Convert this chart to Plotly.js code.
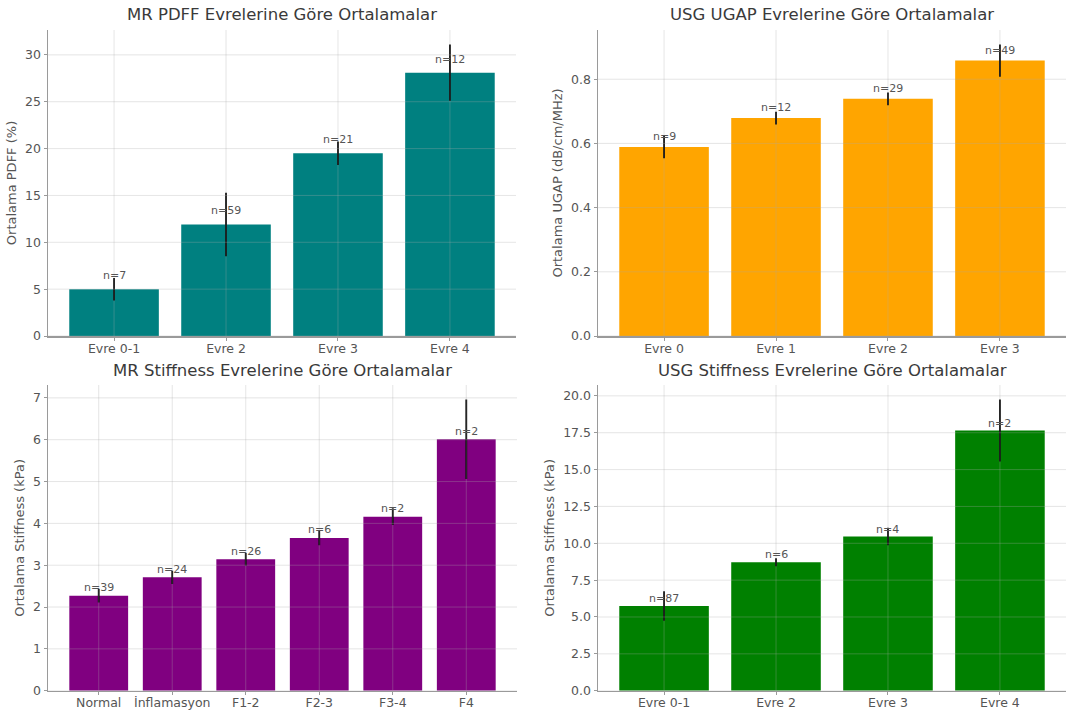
<!DOCTYPE html>
<html>
<head>
<meta charset="utf-8">
<script src="https://cdn.plot.ly/plotly-3.0.1.min.js"></script>
<style>html,body{margin:0;padding:0;background:#fff;}</style>
</head>
<body>
<div id="chart" style="width:1091px;height:714px;"></div>
<script>
// MR PDFF by stage
const pdffStages = ['Evre 0-1', 'Evre 2', 'Evre 3', 'Evre 4'];
const pdffMean = [5.0, 11.9, 19.5, 28.1];
const pdffErr = [1.2, 3.4, 1.25, 3.0];
const pdffN = [7, 59, 21, 12];
const pdffTicks = [0, 5, 10, 15, 20, 25, 30];

// USG UGAP by stage
const ugapStages = ['Evre 0', 'Evre 1', 'Evre 2', 'Evre 3'];
const ugapMean = [0.589, 0.679, 0.739, 0.858];
const ugapErr = [0.035, 0.02, 0.02, 0.05];
const ugapN = [9, 12, 29, 49];
const ugapTicks = [0, 0.2, 0.4, 0.6, 0.8];

// MR stiffness by stage
const mrsStages = ['Normal', 'İnflamasyon', 'F1-2', 'F2-3', 'F3-4', 'F4'];
const mrsMean = [2.27, 2.71, 3.14, 3.65, 4.16, 6.01];
const mrsErr = [0.16, 0.16, 0.15, 0.17, 0.2, 0.95];
const mrsN = [39, 24, 26, 6, 2, 2];
const mrsTicks = [0, 1, 2, 3, 4, 5, 6, 7];

// USG stiffness by stage
const usgsStages = ['Evre 0-1', 'Evre 2', 'Evre 3', 'Evre 4'];
const usgsMean = [5.75, 8.72, 10.46, 17.65];
const usgsErr = [1.0, 0.27, 0.6, 2.1];
const usgsN = [87, 6, 4, 2];
const usgsTicks = [0, 2.5, 5, 7.5, 10, 12.5, 15, 17.5, 20];

const W = 1091, H = 714;
const FONT = 'DejaVu Sans, Verdana, sans-serif';

const panels = [
  {ax: '', stages: pdffStages, mean: pdffMean, err: pdffErr, n: pdffN, ticks: pdffTicks, digits: 0,
   color: '#008080', title: 'MR PDFF Evrelerine Göre Ortalamalar', ytitle: 'Ortalama PDFF (%)',
   px: [48, 516], py: [30, 336], shift: 13.5},
  {ax: '2', stages: ugapStages, mean: ugapMean, err: ugapErr, n: ugapN, ticks: ugapTicks, digits: 1,
   color: '#FFA500', title: 'USG UGAP Evrelerine Göre Ortalamalar', ytitle: 'Ortalama UGAP (dB/cm/MHz)',
   px: [598, 1066], py: [30, 336], shift: 10.6},
  {ax: '3', stages: mrsStages, mean: mrsMean, err: mrsErr, n: mrsN, ticks: mrsTicks, digits: 0,
   color: '#800080', title: 'MR Stiffness Evrelerine Göre Ortalamalar', ytitle: 'Ortalama Stiffness (kPa)',
   px: [48, 517], py: [385, 690.7], shift: 8.3},
  {ax: '4', stages: usgsStages, mean: usgsMean, err: usgsErr, n: usgsN, ticks: usgsTicks, digits: 1,
   color: '#008000', title: 'USG Stiffness Evrelerine Göre Ortalamalar', ytitle: 'Ortalama Stiffness (kPa)',
   px: [598, 1066], py: [385, 690.7], shift: 7.2}
];

const data = [];
const layout = {
  width: W, height: H,
  margin: {l: 0, r: 0, t: 0, b: 0},
  paper_bgcolor: '#ffffff',
  plot_bgcolor: '#ffffff',
  showlegend: false,
  font: {family: FONT, color: '#555555', size: 12},
  annotations: [],
  shapes: []
};

const gridColor = 'rgba(170,170,170,0.3)';
const axisColor = '#9a9a9a';

panels.forEach(p => {
  const xa = 'x' + p.ax, ya = 'y' + p.ax;
  const xk = 'xaxis' + p.ax, yk = 'yaxis' + p.ax;
  const k = p.stages.length;
  const pad = 0.05 * (k - 0.2);
  const top = Math.max(...p.mean.map((m, i) => m + p.err[i])) * 1.05;

  data.push({
    type: 'bar', x: p.stages, y: p.mean, xaxis: xa, yaxis: ya,
    width: 0.8,
    marker: {color: p.color, line: {width: 0}},
    error_y: {type: 'data', array: p.err, visible: true, color: '#000000', thickness: 1.8, width: 0},
    hoverinfo: 'x+y'
  });

  layout[xk] = {
    domain: [p.px[0] / W, p.px[1] / W],
    anchor: ya,
    type: 'category',
    range: [-0.4 - pad, k - 0.6 + pad],
    showgrid: false, zeroline: false,
    showline: true, linecolor: axisColor, linewidth: 1.5,
    ticks: 'outside', ticklen: 3, tickcolor: axisColor, tickwidth: 1,
    ticklabelstandoff: -3,
    tickfont: {family: FONT, size: 12.5, color: '#555555'},
    fixedrange: true
  };
  layout[yk] = {
    domain: [1 - p.py[1] / H, 1 - p.py[0] / H],
    anchor: xa,
    range: [0, top],
    tickvals: p.ticks,
    ticktext: p.ticks.map(v => v.toFixed(p.digits)),
    showgrid: false, zeroline: false,
    showline: true, linecolor: axisColor, linewidth: 1.5,
    ticks: 'outside', ticklen: 3, tickcolor: axisColor, tickwidth: 1,
    tickfont: {family: FONT, size: 12.5, color: '#555555'},
    title: {text: p.ytitle, font: {family: FONT, size: 13, color: '#555555'}, standoff: 5},
    fixedrange: true
  };

  // grid drawn over the bars, as thin translucent lines
  p.ticks.forEach(v => {
    layout.shapes.push({type: 'line', layer: 'above', xref: xa + ' domain', yref: ya,
      x0: 0, x1: 1, y0: v, y1: v, line: {color: gridColor, width: 1}});
  });
  p.stages.forEach(s => {
    layout.shapes.push({type: 'line', layer: 'above', xref: xa, yref: ya + ' domain',
      x0: s, x1: s, y0: 0, y1: 1, line: {color: gridColor, width: 1}});
  });

  // subplot title
  layout.annotations.push({
    text: p.title, xref: xa + ' domain', yref: ya + ' domain', x: 0.5, y: 1,
    xanchor: 'center', yanchor: 'middle', yshift: 15, showarrow: false,
    font: {family: FONT, size: 16.5, color: '#3a3a3a'}
  });

  // sample size labels above each bar
  p.stages.forEach((s, i) => {
    layout.annotations.push({
      text: 'n=' + p.n[i], xref: xa, yref: ya, x: s, y: p.mean[i],
      xanchor: 'center', yanchor: 'middle', yshift: p.shift, showarrow: false,
      font: {family: FONT, size: 11, color: '#555555'}
    });
  });
});

Plotly.newPlot('chart', data, layout, {displayModeBar: false, staticPlot: true});
</script>
</body>
</html>
